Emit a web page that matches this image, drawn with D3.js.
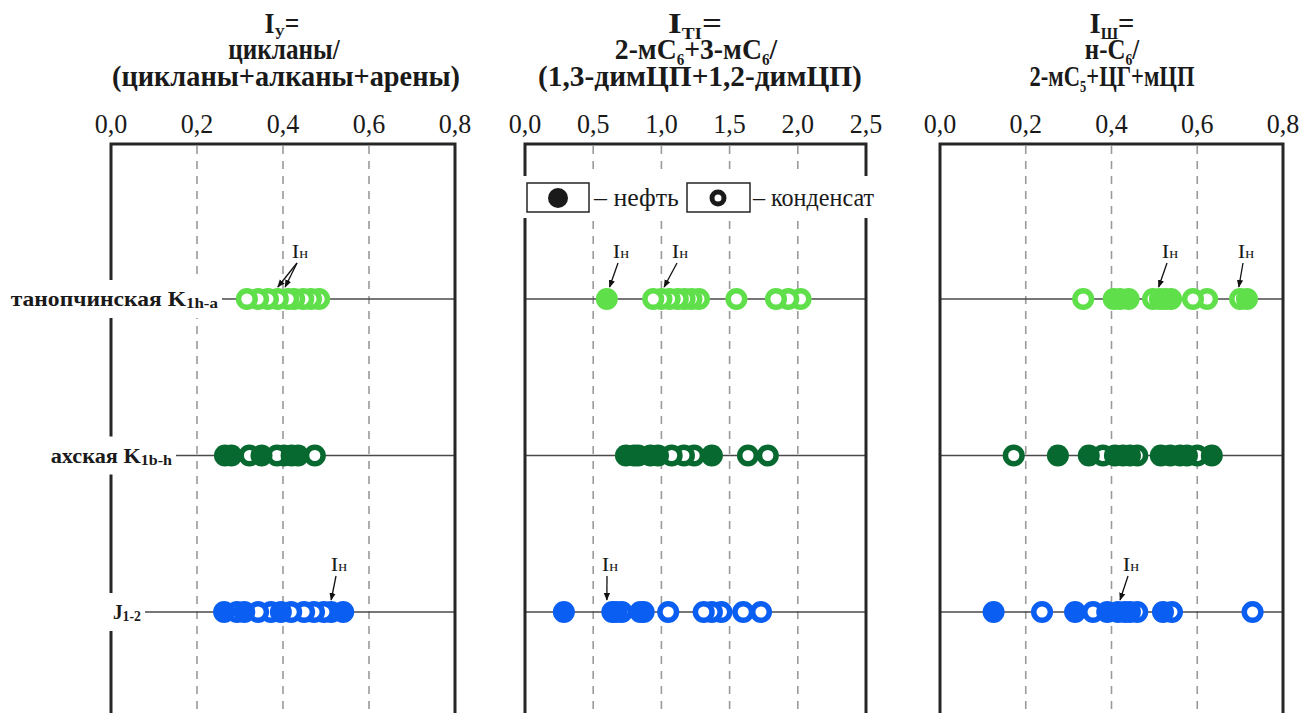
<!DOCTYPE html>
<html><head><meta charset="utf-8">
<script src="https://cdn.jsdelivr.net/npm/d3@7"></script>
<style>body{margin:0;background:#fff}svg{display:block}</style>
</head><body><svg id="c" width="1315" height="713"></svg>
<script>
// ---------- DATA ----------
const rowNames = ["танопчинская", "ахская", "J"];
const rowColors = ["#5fdf4a", "#07692f", "#0a5ef2"];

// Panel 1: I_У
const p1Ticks = [0, 0.2, 0.4, 0.6, 0.8];
const p1Oil = [
  [],
  [0.265, 0.28, 0.35, 0.42, 0.435],
  [0.263, 0.31, 0.395, 0.54]
];
const p1Cond = [
  [0.316, 0.342, 0.365, 0.388, 0.412, 0.426, 0.447, 0.465, 0.484],
  [0.322, 0.386, 0.402, 0.474],
  [0.293, 0.342, 0.372, 0.419, 0.449, 0.472, 0.495, 0.512]
];

// Panel 2: I_ТІ
const p2Ticks = [0, 0.5, 1.0, 1.5, 2.0, 2.5];
const p2Oil = [
  [0.60],
  [0.74, 0.8, 0.83, 0.92, 0.975, 1.37],
  [0.285, 0.64, 0.67, 0.845, 0.87]
];
const p2Cond = [
  [0.94, 1.0, 1.06, 1.12, 1.17, 1.22, 1.275, 1.55, 1.84, 1.93, 2.02],
  [1.075, 1.165, 1.24, 1.635, 1.78],
  [0.71, 1.05, 1.31, 1.37, 1.44, 1.6, 1.73]
];

// Panel 3: I_Ш
const p3Ticks = [0, 0.2, 0.4, 0.6, 0.8];
const p3Oil = [
  [0.405, 0.42, 0.44, 0.513, 0.525, 0.539, 0.716],
  [0.275, 0.347, 0.408, 0.427, 0.443, 0.515, 0.537, 0.56, 0.576, 0.634],
  [0.125, 0.315, 0.39, 0.415, 0.431, 0.443, 0.52]
];
const p3Cond = [
  [0.334, 0.497, 0.59, 0.623, 0.70],
  [0.172, 0.38, 0.46, 0.6],
  [0.238, 0.357, 0.46, 0.541, 0.729]
];

// Annotations "Iн": panel, row, target values, label centre
const notes = [
  {p: 0, r: 0, vals: [0.388, 0.405], lx: 300},
  {p: 0, r: 2, vals: [0.512], lx: 339},
  {p: 1, r: 0, vals: [0.62], lx: 621},
  {p: 1, r: 0, vals: [1.02], lx: 680},
  {p: 1, r: 2, vals: [0.60], lx: 610},
  {p: 2, r: 0, vals: [0.51], lx: 1170},
  {p: 2, r: 0, vals: [0.697], lx: 1246},
  {p: 2, r: 2, vals: [0.42], lx: 1131}
];

// ---------- LAYOUT ----------
const svg = d3.select("#c");
const H = 713;
const serif = "'Liberation Serif','Times New Roman',serif";
const frameTop = 144;
const fmt = d => d.toFixed(1).replace(".", ",");

const panels = [
  {x0: 111, x1: 455, dom: [0, 0.8], ticks: p1Ticks, oil: p1Oil, cond: p1Cond},
  {x0: 525, x1: 866, dom: [0, 2.5], ticks: p2Ticks, oil: p2Oil, cond: p2Cond},
  {x0: 940, x1: 1283, dom: [0, 0.8], ticks: p3Ticks, oil: p3Oil, cond: p3Cond}
];
panels.forEach(p => p.x = d3.scaleLinear().domain(p.dom).range([p.x0, p.x1]));
const y = d3.scalePoint().domain(rowNames).range([299, 612]);

function fitText(g, w) {
  const t = g.select("text");
  const bw = t.node().getBBox().width;
  t.attr("transform", `scale(${w / bw},1)`);
}

function addRich(g, parts, size, weight, subScale, subDy) {
  const t = g.append("text").attr("font-family", serif).attr("font-size", size)
    .attr("font-weight", weight).attr("fill", "#1a1a1a");
  let shifted = false;
  parts.forEach(pt => {
    const ts = t.append("tspan").text(pt.t);
    if (pt.sub) { ts.attr("font-size", size * subScale).attr("dy", subDy); shifted = true; }
    else if (shifted) { ts.attr("dy", -subDy); shifted = false; }
  });
  return t;
}

// gridlines
panels.forEach(p => {
  svg.append("g").selectAll("line").data(p.ticks.slice(1, -1)).join("line")
    .attr("x1", d => p.x(d)).attr("x2", d => p.x(d))
    .attr("y1", frameTop + 2).attr("y2", H)
    .attr("stroke", "#9a9a9a").attr("stroke-width", 1.6).attr("stroke-dasharray", "8,7");
});

// row lines
panels.forEach(p => {
  svg.append("g").selectAll("line").data(rowNames).join("line")
    .attr("x1", p.x0).attr("x2", p.x1).attr("y1", d => y(d)).attr("y2", d => y(d))
    .attr("stroke", "#4a4a4a").attr("stroke-width", 1.6);
});

// frames
panels.forEach(p => {
  svg.append("path")
    .attr("d", `M${p.x0},${H + 5}V${frameTop}H${p.x1}V${H + 5}`)
    .attr("fill", "none").attr("stroke", "#262626").attr("stroke-width", 3);
});

// titles
const titles = [
  [[{t: "I"}, {t: "У", sub: 1}, {t: "="}], [{t: "цикланы/"}], [{t: "(цикланы+алканы+арены)"}]],
  [[{t: "I"}, {t: "ТІ", sub: 1}, {t: "="}], [{t: "2-мС"}, {t: "6", sub: 1}, {t: "+3-мС"}, {t: "6", sub: 1}, {t: "/"}], [{t: "(1,3-димЦП+1,2-димЦП)"}]],
  [[{t: "I"}, {t: "Ш", sub: 1}, {t: "="}], [{t: "н-С"}, {t: "6", sub: 1}, {t: "/"}], [{t: "2-мС"}, {t: "5", sub: 1}, {t: "+ЦГ+мЦП"}]]
];
const titleCx = [[282, 284, 286], [695, 696, 700], [1112, 1112, 1112]];
const titleW = [[35, 112, 348], [54, 163, 324], [45, 55, 165]];
const titleY = [33, 59, 86];
titles.forEach((lines, i) => lines.forEach((parts, j) => {
  const g = svg.append("g").attr("transform", `translate(${titleCx[i][j]},${titleY[j]})`);
  addRich(g, parts, 30, "bold", 0.55, 6).attr("text-anchor", "middle");
  fitText(g, titleW[i][j]);
}));

// tick labels
panels.forEach(p => {
  p.ticks.forEach(tk => {
    svg.append("text").attr("font-family", serif).attr("font-size", 28)
      .attr("text-anchor", "middle").attr("fill", "#1a1a1a")
      .attr("transform", `translate(${p.x(tk)},133) scale(0.93,1)`)
      .text(fmt(tk));
  });
});

// row labels with white backing
const rowLabelParts = [
  [{t: "танопчинская K"}, {t: "1h-a", sub: 1}],
  [{t: "ахская K"}, {t: "1b-h", sub: 1}],
  [{t: "J"}, {t: "1-2", sub: 1}]
];
const rowLabelEnd = [218, 172, 141];
const rowLabelW = [208, 122, 28];
rowNames.forEach((rn, i) => {
  const cy = y(rn);
  svg.append("rect").attr("x", rowLabelEnd[i] - rowLabelW[i] - 4).attr("y", cy - 19)
    .attr("width", rowLabelW[i] + 8).attr("height", 38).attr("fill", "#fff");
  const g = svg.append("g").attr("transform", `translate(${rowLabelEnd[i]},${cy + 7})`);
  addRich(g, rowLabelParts[i], 21, "bold", 0.72, 2).attr("text-anchor", "end");
  fitText(g, rowLabelW[i]);
});

// markers: condensate (rings) drawn right-to-left, oil (filled) on top
panels.forEach(p => {
  rowNames.forEach((rn, ri) => {
    const cy = y(rn), col = rowColors[ri];
    const cond = p.cond[ri].slice().sort((a, b) => b - a);
    svg.append("g").selectAll("circle").data(cond).join("circle")
      .attr("cx", d => p.x(d)).attr("cy", cy).attr("r", 8.3)
      .attr("fill", "#fff").attr("stroke", col).attr("stroke-width", 5.5);
    svg.append("g").selectAll("circle").data(p.oil[ri]).join("circle")
      .attr("cx", d => p.x(d)).attr("cy", cy).attr("r", 11)
      .attr("fill", col);
  });
});

// arrow marker
svg.append("defs").append("marker").attr("id", "ah")
  .attr("viewBox", "0 0 10 10").attr("refX", 9).attr("refY", 5)
  .attr("markerWidth", 6).attr("markerHeight", 6).attr("orient", "auto")
  .append("path").attr("d", "M0,1L10,5L0,9Z").attr("fill", "#111");

// annotations
notes.forEach(n => {
  const p = panels[n.p], cy = y(rowNames[n.r]);
  const ty = cy - 41;
  const g = svg.append("g").attr("transform", `translate(${n.lx},${ty})`);
  addRich(g, [{t: "I"}, {t: "н"}], 19, "normal", 1, 0).attr("text-anchor", "middle")
    .select("tspan:nth-child(2)").attr("font-size", 14);
  fitText(g, 17);
  n.vals.forEach(v => {
    svg.append("line").attr("x1", n.lx - 3).attr("y1", ty + 5)
      .attr("x2", p.x(v)).attr("y2", cy - 12)
      .attr("stroke", "#111").attr("stroke-width", 1.3).attr("marker-end", "url(#ah)");
  });
});

// legend
svg.append("rect").attr("x", 518).attr("y", 176).attr("width", 362).attr("height", 42).attr("fill", "#fff");
svg.append("rect").attr("x", 527).attr("y", 183).attr("width", 62).attr("height", 29)
  .attr("fill", "#fff").attr("stroke", "#262626").attr("stroke-width", 1.5);
svg.append("rect").attr("x", 687).attr("y", 183).attr("width", 63).attr("height", 29)
  .attr("fill", "#fff").attr("stroke", "#262626").attr("stroke-width", 1.5);
svg.append("circle").attr("cx", 558).attr("cy", 198).attr("r", 10).attr("fill", "#1a1a1a");
svg.append("circle").attr("cx", 718).attr("cy", 198).attr("r", 6).attr("fill", "#fff")
  .attr("stroke", "#1a1a1a").attr("stroke-width", 5);
[["– нефть", 594, 86], ["– конденсат", 753, 122]].forEach(([t, x, w]) => {
  const g = svg.append("g").attr("transform", `translate(${x},206)`);
  g.append("text").attr("font-family", serif).attr("font-size", 26).attr("fill", "#1a1a1a").text(t);
  fitText(g, w);
});
</script></body></html>
